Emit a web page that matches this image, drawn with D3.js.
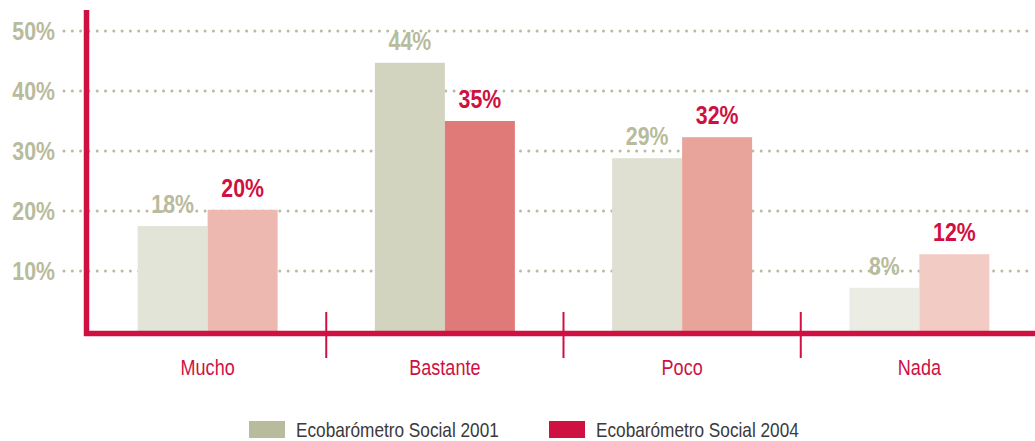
<!DOCTYPE html>
<html><head><meta charset="utf-8">
<script src="https://cdn.jsdelivr.net/npm/d3@7"></script>
<style>
html,body{margin:0;padding:0;background:#fff;}
svg{display:block;}
text{font-family:"Liberation Sans",Arial,sans-serif;}
</style></head>
<body>
<svg id="chart" width="1035" height="441"></svg>
<script>
const categories = ["Mucho", "Bastante", "Poco", "Nada"];
const series = ["Ecobarómetro Social 2001", "Ecobarómetro Social 2004"];
const values2001 = [17.5, 44.7, 28.8, 7.2];
const values2004 = [20.2, 35.0, 32.3, 12.8];
const labels2001 = ["18%", "44%", "29%", "8%"];
const labels2004 = ["20%", "35%", "32%", "12%"];
const yTicks = [10, 20, 30, 40, 50];
const fills2001 = ["#e3e4d8", "#d2d4bf", "#dfe0d2", "#ebece4"];
const fills2004 = ["#edb8b0", "#e07a78", "#e8a39b", "#f2cbc5"];

const crimson = "#cf1142";
const olive = "#b8bb9c";
const NARROW = 0.82;
const svg = d3.select("#chart");
const at = (x, yy) => `translate(${x},${yy}) scale(${NARROW},1)`;

const y = d3.scaleLinear().domain([0, 50]).range([331, 31]);
const x0 = d3.scaleBand().domain(categories).range([89, 1038]).paddingInner(0.41).paddingOuter(0.205);
const x1 = d3.scaleBand().domain(series).range([0, x0.bandwidth()]);

// gridlines
svg.append("g").selectAll("line").data(yTicks).join("line")
  .attr("x1", 64).attr("x2", 1035)
  .attr("y1", d => y(d)).attr("y2", d => y(d))
  .attr("stroke", olive).attr("stroke-width", 3)
  .attr("stroke-linecap", "round").attr("stroke-dasharray", "0 8.3");

// y tick labels
svg.append("g").selectAll("text").data(yTicks).join("text")
  .attr("transform", d => at(55, y(d) + 9))
  .attr("text-anchor", "end")
  .attr("font-size", 26).attr("font-weight", "bold")
  .attr("fill", olive)
  .text(d => d + "%");

const rows = categories.map((c, i) => ({
  c,
  items: [
    {s: series[0], v: values2001[i], l: labels2001[i], f: fills2001[i], t: olive},
    {s: series[1], v: values2004[i], l: labels2004[i], f: fills2004[i], t: crimson}
  ]
}));

const g = svg.append("g").selectAll("g").data(rows).join("g")
  .attr("transform", d => `translate(${x0(d.c)},0)`);

g.selectAll("rect").data(d => d.items).join("rect")
  .attr("x", d => x1(d.s)).attr("width", x1.bandwidth())
  .attr("y", d => y(d.v)).attr("height", d => y(0) - y(d.v))
  .attr("fill", d => d.f);

g.selectAll("text.val").data(d => d.items).join("text")
  .attr("class", "val")
  .attr("transform", d => at(x1(d.s) + x1.bandwidth() / 2, y(d.v) - 13))
  .attr("text-anchor", "middle")
  .attr("font-size", 26).attr("font-weight", "bold")
  .attr("fill", d => d.t)
  .text(d => d.l);

// category labels
svg.append("g").selectAll("text").data(categories).join("text")
  .attr("transform", d => at(x0(d) + x0.bandwidth() / 2, 375))
  .attr("text-anchor", "middle")
  .attr("font-size", 22)
  .attr("fill", crimson)
  .text(d => d);

// separators between categories
const seps = categories.slice(1).map(c => x0(c) - x0.step() * x0.paddingInner() / 2);
svg.append("g").selectAll("line").data(seps).join("line")
  .attr("x1", d => d).attr("x2", d => d)
  .attr("y1", 312).attr("y2", 358)
  .attr("stroke", crimson).attr("stroke-width", 2);

// axes lines
svg.append("line").attr("x1", 84).attr("x2", 1035).attr("y1", 333.5).attr("y2", 333.5)
  .attr("stroke", crimson).attr("stroke-width", 5.5);
svg.append("line").attr("x1", 86.5).attr("x2", 86.5).attr("y1", 10).attr("y2", 336)
  .attr("stroke", crimson).attr("stroke-width", 5.5);

// legend
const leg = svg.append("g").selectAll("g").data(series).join("g")
  .attr("transform", (d, i) => `translate(${[249, 549][i]},421)`);
leg.append("rect").attr("width", 36).attr("height", 17)
  .attr("fill", (d, i) => [olive, crimson][i]);
leg.append("text").attr("transform", at(47, 16))
  .attr("font-size", 21).attr("fill", "#3a3a3a")
  .text(d => d);
</script>
</body></html>
